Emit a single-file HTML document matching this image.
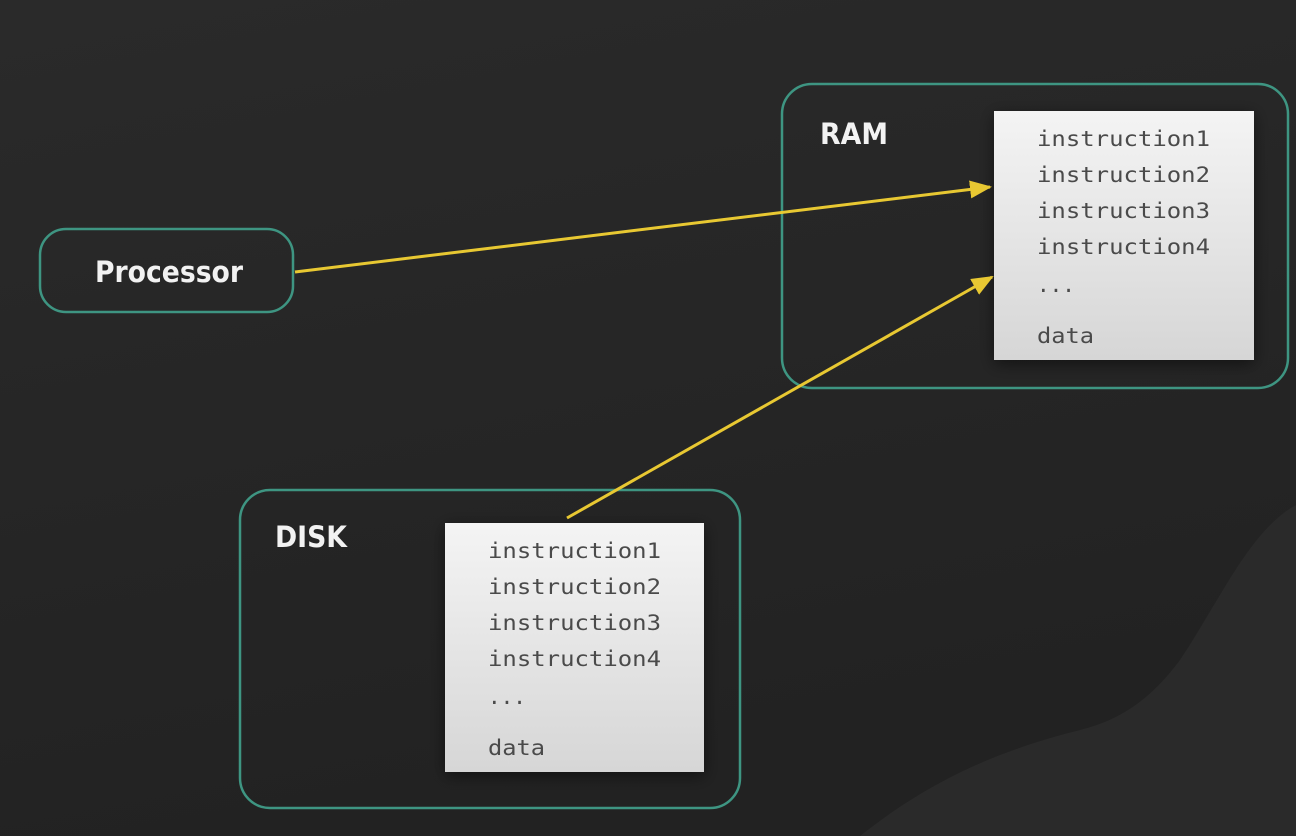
<!DOCTYPE html>
<html><head><meta charset="utf-8"><style>
html,body{margin:0;padding:0;background:#272727;}
svg{display:block}
</style></head><body>
<svg width="1296" height="836" viewBox="0 0 1296 836" xmlns="http://www.w3.org/2000/svg">
<defs>
<linearGradient id="bg" x1="0" y1="0" x2="0.3" y2="1">
<stop offset="0" stop-color="#2a2a2a"/><stop offset="1" stop-color="#222"/>
</linearGradient>
<linearGradient id="pp" x1="0" y1="0" x2="0" y2="1">
<stop offset="0" stop-color="#f4f4f4"/><stop offset="1" stop-color="#d6d6d6"/>
</linearGradient>
<filter id="sh" x="-20%" y="-20%" width="140%" height="140%"><feDropShadow dx="0" dy="4" stdDeviation="8" flood-color="#000" flood-opacity="0.5"/></filter>
<marker id="ah2" markerWidth="22" markerHeight="22" refX="20" refY="11" orient="auto" markerUnits="userSpaceOnUse"><path d="M0,2 L22,11 L0,20 Z" fill="#e8c832"/></marker>
</defs>
<rect width="1296" height="836" fill="url(#bg)"/>
<path d="M1296,505 C1250,530 1220,600 1180,660 C1150,700 1120,720 1080,730 C1000,750 930,780 860,836 L1296,836 Z" fill="#2a2a2a"/>
<g fill="none" stroke="#3e9582" stroke-width="2.5">
<rect x="40" y="229" width="253" height="83" rx="26"/>
<rect x="782" y="84" width="506" height="304" rx="30"/>
<rect x="240" y="490" width="500" height="318" rx="30"/>
</g>
<g font-family="'DejaVu Sans','Liberation Sans',sans-serif" fill="#f2f2f2" font-size="29" font-weight="bold">
<text x="95" y="282" textLength="148" lengthAdjust="spacingAndGlyphs">Processor</text>
<text x="820" y="144" textLength="68" lengthAdjust="spacingAndGlyphs">RAM</text>
<text x="275" y="547" textLength="72" lengthAdjust="spacingAndGlyphs">DISK</text>
</g>
<rect x="994" y="111" width="260" height="249" fill="url(#pp)" filter="url(#sh)"/>
<rect x="445" y="523" width="259" height="249" fill="url(#pp)" filter="url(#sh)"/>
<g font-family="'DejaVu Sans Mono','Liberation Mono',monospace" fill="#4a4a4a" font-size="21">
<text x="1037" y="146" textLength="173" lengthAdjust="spacingAndGlyphs">instruction1</text>
<text x="1037" y="182" textLength="173" lengthAdjust="spacingAndGlyphs">instruction2</text>
<text x="1037" y="218" textLength="173" lengthAdjust="spacingAndGlyphs">instruction3</text>
<text x="1037" y="254" textLength="173" lengthAdjust="spacingAndGlyphs">instruction4</text>
<text x="1037" y="292">...</text>
<text x="1037" y="343" textLength="57" lengthAdjust="spacingAndGlyphs">data</text>
<text x="488" y="558" textLength="173" lengthAdjust="spacingAndGlyphs">instruction1</text>
<text x="488" y="594" textLength="173" lengthAdjust="spacingAndGlyphs">instruction2</text>
<text x="488" y="630" textLength="173" lengthAdjust="spacingAndGlyphs">instruction3</text>
<text x="488" y="666" textLength="173" lengthAdjust="spacingAndGlyphs">instruction4</text>
<text x="488" y="704">...</text>
<text x="488" y="755" textLength="57" lengthAdjust="spacingAndGlyphs">data</text>
</g>
<g stroke="#e8c832" stroke-width="3" fill="none">
<line x1="295" y1="272" x2="990" y2="187" marker-end="url(#ah2)"/>
<line x1="567" y1="518" x2="992" y2="277" marker-end="url(#ah2)"/>
</g>
</svg>
</body></html>
